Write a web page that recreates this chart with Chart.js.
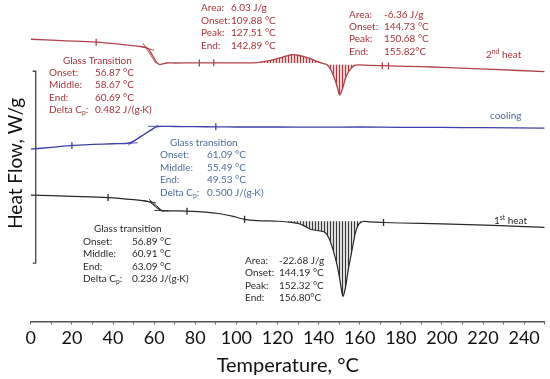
<!DOCTYPE html>
<html><head><meta charset="utf-8">
<script src="https://cdn.jsdelivr.net/npm/chart.js@4/dist/chart.umd.min.js"></script>
<style>html,body{margin:0;padding:0;background:#fff}#wrap{width:550px;height:379px}</style>
</head><body><div id="wrap"><canvas id="c" width="550" height="379"></canvas></div>
<script>
// ---- tick labels ----
const xTickValues = [0,20,40,60,80,100,120,140,160,180,200,220,240];
const xTickLabels = ['0','20','40','60','80','100','120','140','160','180','200','220','240'];

// ---- 2nd heat (red) ----
const heat2T  = [0,15,31.8,45,55,57,59,61,62.5,64,66,70,80,90,100,108,112,116,120,124,127,130,133,136,139,142,144,146,148,149.4,150.3,151.8,153.4,155.8,158,165,175,190,200,225,250];
const heat2HF = [2.91,2.895,2.88,2.855,2.83,2.815,2.75,2.68,2.65,2.655,2.665,2.665,2.666,2.667,2.667,2.667,2.675,2.69,2.71,2.735,2.75,2.745,2.73,2.71,2.685,2.66,2.65,2.593,2.493,2.393,2.335,2.41,2.527,2.61,2.643,2.64,2.635,2.627,2.62,2.60,2.575];

// ---- cooling (blue) ----
const coolT  = [0,10,20,30,40,47,50,53,56,59,61,63,70,80,90,100,120,140,160,180,200,220,250];
const coolHF = [1.777,1.795,1.815,1.825,1.832,1.837,1.86,1.90,1.94,1.98,2.005,2.012,2.01,2.008,2.007,2.005,2.005,2.003,2.005,2.002,2.0,1.998,1.993];

// ---- 1st heat (black) ----
const heat1T  = [0,20,37.6,50,57.8,59.5,61.5,63.6,70,76,85,92,98,104,110,120,125,130,133,136,140,143,145,147,149,150.5,151.8,153,154.5,156.5,158,159.5,161.5,165,171.6,180,200,225,250];
const heat1HF = [1.303,1.29,1.277,1.255,1.233,1.205,1.17,1.143,1.14,1.137,1.127,1.11,1.085,1.053,1.04,1.033,1.025,1.01,0.985,0.95,0.935,0.92,0.86,0.74,0.58,0.41,0.26,0.34,0.54,0.76,0.92,1.00,1.03,1.027,1.02,1.015,1.005,0.99,0.97];

// ---- integration ranges & baselines ----
const redExoRange = [108,142], redExoBase = 2.664;
const redEndoRange = [144,158], redEndoBase = 2.648;
const blackEndoRange = [125,161.5], blackEndoBase = 1.032;

// ---- analysis markers & tangents ----
const redMarkT = [31.8,82,89,171,174], redMarkHF = [2.88,2.666,2.667,2.637,2.635];
const blueMarkT = [20,90], blueMarkHF = [1.815,2.007];
const blackMarkT = [37.6,76,104,171.6], blackMarkHF = [1.277,1.137,1.053,1.02];
const redTangents = [[[54.5,2.87],[61,2.66]],[[53,2.84],[60,2.795]]];
const blueTangents = [[[43,1.834],[52,1.842]],[[47.5,1.82],[62,2.025]],[[57,2.012],[64,2.012]]];
const blackTangents = [[[54,1.248],[61,1.222]],[[57.5,1.26],[64.5,1.13]],[[60,1.145],[67,1.14]]];

const RED='#b0424a', REDT='#a8343c', BLUE='#3d3fa8', BLUET='#4f6c9c', BLACK='#2a2a2a';

const pts = (T,H)=>T.map((t,i)=>({x:t,y:H[i]}));
const seg = (T,H,r)=>pts(T,H).filter(p=>p.x>=r[0]&&p.x<=r[1]);

const canvas=document.getElementById('c');
const mainCtx=canvas.getContext('2d');
function hatch(line,bg){
  const c=document.createElement('canvas'); c.width=3; c.height=4;
  const g=c.getContext('2d'); g.fillStyle=bg; g.fillRect(0,0,3,4);
  g.fillStyle=line; g.fillRect(0,0,1,4);
  return mainCtx.createPattern(c,'repeat');
}
const redHatch=hatch('rgba(176,45,55,0.95)','rgba(215,130,135,0.35)');
const blackHatch=hatch('rgba(40,40,40,0.9)','rgba(170,170,170,0.4)');

function lineDs(data,color,w){return {data,borderColor:color,borderWidth:w,pointRadius:0,fill:false,tension:0.3,order:1};}
function hatchDs(data,base,pat){return {data,borderWidth:0,borderColor:'rgba(0,0,0,0)',pointRadius:0,fill:{value:base},backgroundColor:pat,tension:0.3,order:5};}
function markDs(T,H,color){return {data:pts(T,H),showLine:false,pointStyle:'line',rotation:90,pointRadius:3.5,borderColor:color,borderWidth:1.3,order:0};}
function tanDs(list,color){return list.map(s=>({data:s.map(p=>({x:p[0],y:p[1]})),borderColor:color,borderWidth:0.9,pointRadius:0,fill:false,order:2}));}

const datasets=[
  hatchDs(seg(heat2T,heat2HF,redExoRange),redExoBase,redHatch),
  hatchDs(seg(heat2T,heat2HF,redEndoRange),redEndoBase,redHatch),
  hatchDs(seg(heat1T,heat1HF,blackEndoRange),blackEndoBase,blackHatch),
  lineDs(pts(heat2T,heat2HF),RED,1.3),
  lineDs(pts(coolT,coolHF),BLUE,1.3),
  lineDs(pts(heat1T,heat1HF),BLACK,1.2),
  markDs(redMarkT,redMarkHF,RED),
  markDs(blueMarkT,blueMarkHF,BLUE),
  markDs(blackMarkT,blackMarkHF,BLACK),
  ...tanDs(redTangents,RED),...tanDs(blueTangents,BLUE),...tanDs(blackTangents,BLACK)
];

function rich(ctx,x,y,parts,color,size){
  let cx=x;
  for(const p of parts){
    const t=Array.isArray(p)?p[0]:p, kind=Array.isArray(p)?p[1]:null;
    const fs=kind?size*0.68:size;
    ctx.font=fs+'px Lato';
    const dy=kind==='sup'?-size*0.3:kind==='sub'?size*0.28:0;
    ctx.fillStyle=color; ctx.fillText(t,cx,y+dy);
    cx+=ctx.measureText(t).width;
  }
}
function block(ctx,lx,vx,ys,labels,values,color){
  labels.forEach((l,i)=>{rich(ctx,lx,ys[i],l,color,10);rich(ctx,vx,ys[i],[values[i]],color,10);});
}
const annot={id:'annot',afterDraw(chart){
  const ctx=chart.ctx; ctx.save(); ctx.textBaseline='middle'; ctx.textAlign='left';
  const dC=['Delta C',['p','sub'],':'];
  // red exotherm
  block(ctx,201,231,[8,21,33,46],[['Area:'],['Onset:'],['Peak:'],['End:']],['6.03 J/g','109.88 °C','127.51 °C','142.89 °C'],REDT);
  // red endotherm
  block(ctx,349,384,[15,27,39,52],[['Area:'],['Onset:'],['Peak:'],['End:']],['-6.36 J/g','144.73 °C','150.68 °C','155.82°C'],REDT);
  rich(ctx,486,55,['2',['nd','sup'],' heat'],REDT,10);
  // red glass transition
  rich(ctx,63,61,['Glass Transition'],REDT,10);
  block(ctx,49,95,[73,85,98,110],[['Onset:'],['Middle:'],['End:'],dC],['56.87 °C','58.67 °C','60.69 °C','0.482 J/(g·K)'],REDT);
  // blue
  rich(ctx,170,143,['Glass transition'],BLUET,10);
  block(ctx,160,207,[155,168,180,193],[['Onset:'],['Middle:'],['End:'],dC],['61.09 °C','55.49 °C','49.53 °C','0.500 J/(g·K)'],BLUET);
  rich(ctx,490,116,['cooling'],BLUET,10);
  // black glass
  rich(ctx,94,229,['Glass transition'],BLACK,10);
  block(ctx,83,132,[242,254,267,279],[['Onset:'],['Middle:'],['End:'],dC],['56.89 °C','60.91 °C','63.09 °C','0.236 J/(g·K)'],BLACK);
  // black endotherm
  block(ctx,245,279,[261,273,286,298],[['Area:'],['Onset:'],['Peak:'],['End:']],['-22.68 J/g','144.19 °C','152.32 °C','156.80°C'],BLACK);
  rich(ctx,494,221,['1',['st','sup'],' heat'],BLACK,10);
  // heat-flow bracket
  const xs=chart.scales.x, ys=chart.scales.y;
  const bx=xs.getPixelForValue(2.4), y1=ys.getPixelForValue(2.58), y2=ys.getPixelForValue(0.60);
  ctx.strokeStyle='#444'; ctx.lineWidth=1.3; ctx.beginPath();
  ctx.moveTo(bx-3,y1); ctx.lineTo(bx,y1); ctx.lineTo(bx,y2); ctx.lineTo(bx-3,y2); ctx.stroke();
  ctx.restore();
}};

new Chart(canvas,{type:'line',data:{datasets},
  options:{responsive:false,animation:false,
    layout:{padding:{left:0,right:1,top:0,bottom:0}},
    plugins:{legend:{display:false},tooltip:{enabled:false}},
    scales:{
      x:{type:'linear',min:0,max:250,
        ticks:{stepSize:10,autoSkip:false,maxRotation:0,padding:3,color:'#111',font:{family:'Lato',size:18},
          callback:(v)=>{const i=xTickValues.indexOf(v);return i>=0?xTickLabels[i]:'';}},
        grid:{display:true,drawOnChartArea:false,drawTicks:true,tickLength:3,color:'#555'},
        border:{display:true,color:'#555',width:1.5},
        title:{display:true,text:'Temperature, °C',color:'#111',font:{family:'Lato',size:20},padding:{top:2,bottom:1}}},
      y:{type:'linear',min:0,max:3.26,
        ticks:{display:false},grid:{display:false,drawTicks:false},border:{display:false},
        title:{display:true,text:'Heat Flow, W/g',color:'#111',font:{family:'Lato',size:19},padding:{top:4,bottom:4}}}
    }},
  plugins:[annot]});
</script></body></html>
